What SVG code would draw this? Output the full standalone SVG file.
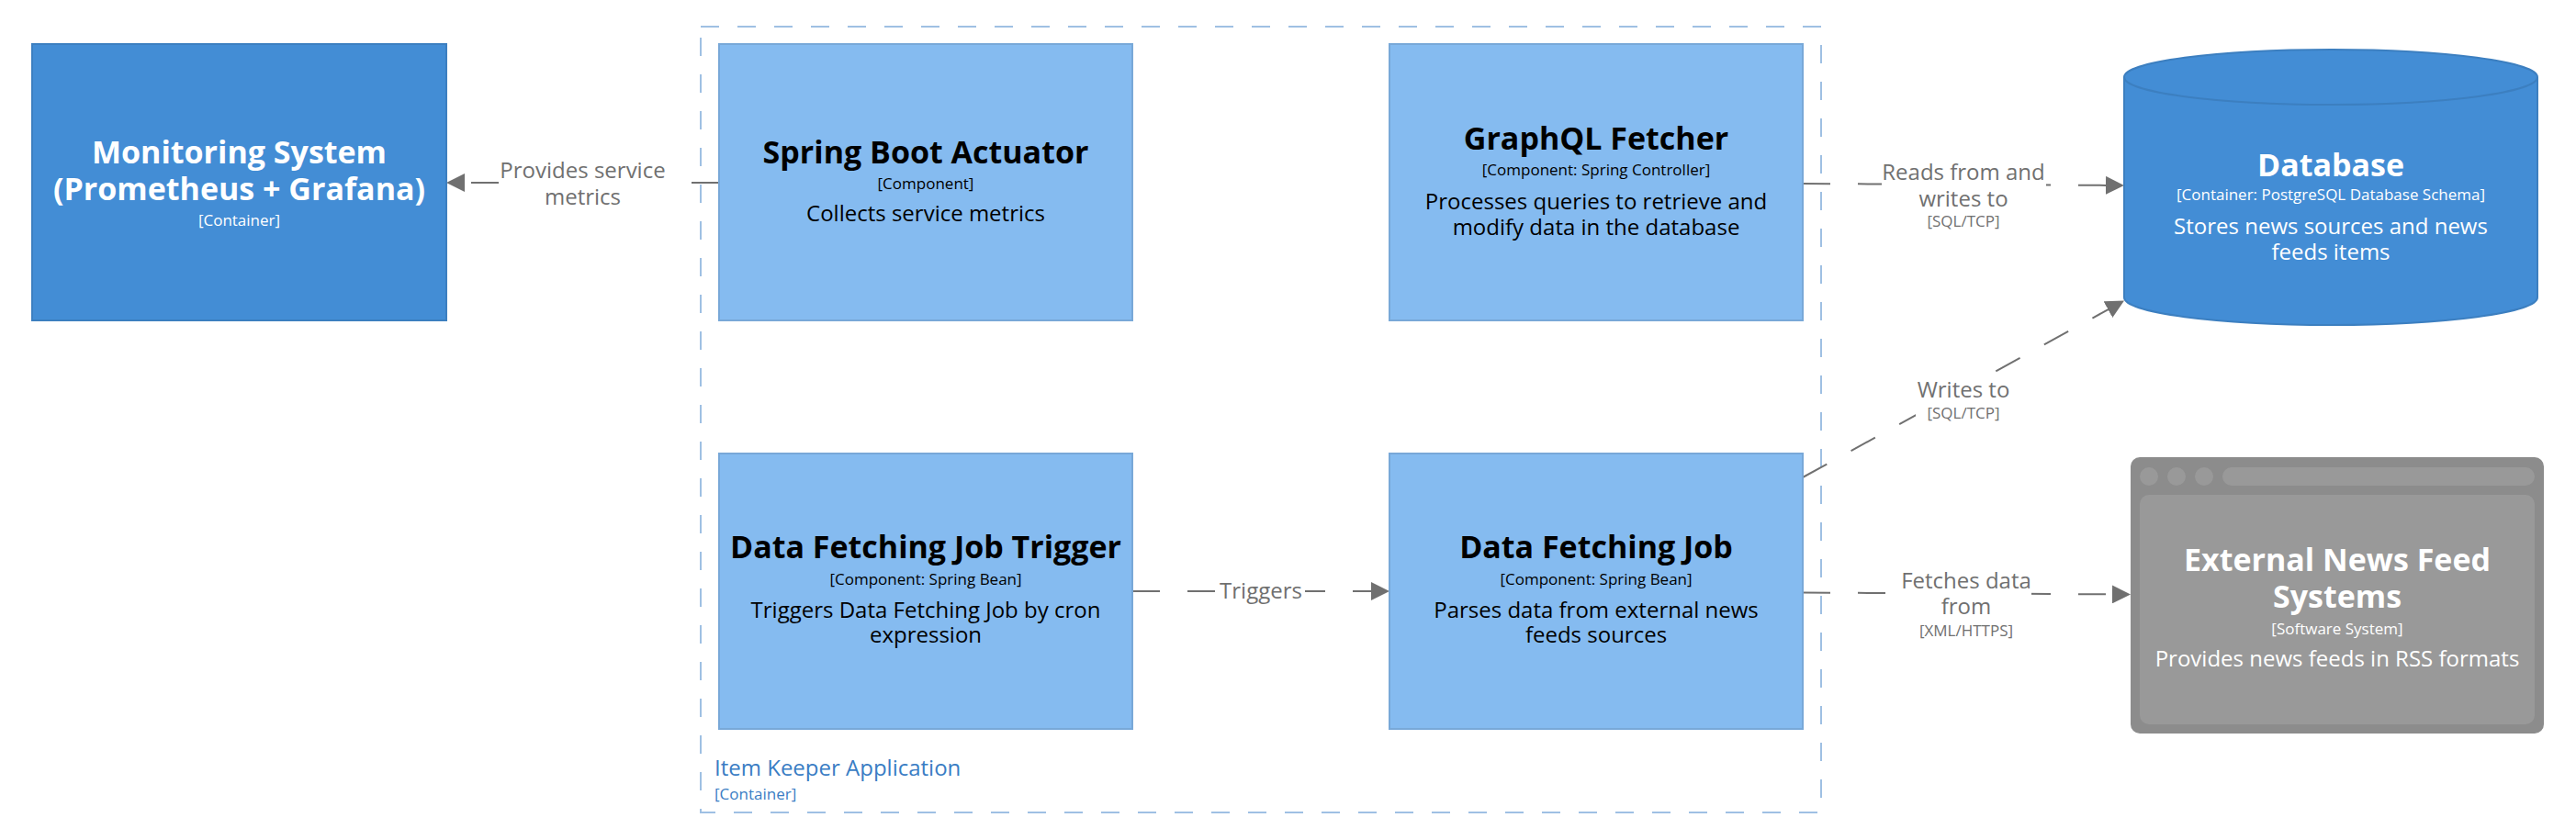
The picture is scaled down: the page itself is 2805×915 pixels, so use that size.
<svg xmlns="http://www.w3.org/2000/svg" width="2805" height="915" viewBox="0 0 2805 915">
<style>
text{font-family:"Open Sans","Liberation Sans",Arial,sans-serif;text-anchor:middle}
.name{font-size:34px;font-weight:bold}
.meta{font-size:17px}
.desc{font-size:24px}
.dark{fill:#000000}
.light{fill:#ffffff}
.comp{fill:#85bbf0;stroke:#78a8d8;stroke-width:2}
.cont{fill:#438dd5;stroke:#3c7fc0;stroke-width:2}
.rel{stroke:#707070;stroke-width:2;stroke-dasharray:30 30;fill:none;marker-end:url(#arrow)}
.lbl{fill:#707070}
.lblbg{fill:#ffffff}
</style>
<defs>
<marker id="arrow" markerUnits="userSpaceOnUse" markerWidth="20" markerHeight="20" refX="20" refY="10" orient="auto">
<path d="M0,0 L20,10 L0,20 Z" fill="#707070"/>
</marker>
</defs>
<rect x="0" y="0" width="2805" height="915" fill="#ffffff"/>

<g id="boundary-item-keeper">
<rect x="763" y="29" width="1220" height="856" fill="none" stroke="#9fc0e3" stroke-width="2" stroke-dasharray="20 20"/>
<text x="778" y="845" style="text-anchor:start;font-size:24px;fill:#3a7dc4">Item Keeper Application</text>
<text x="778" y="871" class="meta" style="text-anchor:start;fill:#3a7dc4">[Container]</text>
</g>

<g id="connectors">
<line class="rel" x1="783" y1="199" x2="486" y2="199"/>
<line class="rel" x1="1963" y1="200" x2="2313" y2="202"/>
<line class="rel" x1="1233" y1="644" x2="1513" y2="644"/>
<line class="rel" x1="1963" y1="520" x2="2313" y2="327.5"/>
<line class="rel" x1="1963" y1="645.5" x2="2320" y2="647.5"/>

<rect class="lblbg" x="544" y="174" width="181" height="58"/>
<text class="desc lbl" x="634.5" y="193.5">Provides service</text>
<text class="desc lbl" x="634.5" y="222.5">metrics</text>

<rect class="lblbg" x="2049" y="174" width="179" height="78"/>
<text class="desc lbl" x="2138" y="196">Reads from and</text>
<text class="desc lbl" x="2138" y="225">writes to</text>
<text class="meta lbl" x="2138" y="246.5">[SQL/TCP]</text>

<rect class="lblbg" x="1324" y="630" width="97" height="30"/>
<text class="desc lbl" x="1373" y="652">Triggers</text>

<rect class="lblbg" x="2086" y="410" width="104" height="52"/>
<text class="desc lbl" x="2138" y="433">Writes to</text>
<text class="meta lbl" x="2138" y="456">[SQL/TCP]</text>

<rect class="lblbg" x="2070" y="618" width="142" height="80"/>
<text class="desc lbl" x="2141" y="640.5">Fetches data</text>
<text class="desc lbl" x="2141" y="669">from</text>
<text class="meta lbl" x="2141" y="692.5">[XML/HTTPS]</text>
</g>

<g id="monitoring-system">
<rect class="cont" x="35" y="48" width="451" height="301"/>
<text class="name light" x="260.5" y="177.5">Monitoring System</text>
<text class="name light" x="260.5" y="218">(Prometheus + Grafana)</text>
<text class="meta light" x="260.5" y="245.5">[Container]</text>
</g>

<g id="spring-boot-actuator">
<rect class="comp" x="783" y="48" width="450" height="301"/>
<text class="name dark" x="1008" y="178">Spring Boot Actuator</text>
<text class="meta dark" x="1008" y="205.5">[Component]</text>
<text class="desc dark" x="1008" y="240.5">Collects service metrics</text>
</g>

<g id="graphql-fetcher">
<rect class="comp" x="1513" y="48" width="450" height="301"/>
<text class="name dark" x="1738" y="163">GraphQL Fetcher</text>
<text class="meta dark" x="1738" y="191">[Component: Spring Controller]</text>
<text class="desc dark" x="1738" y="227.5">Processes queries to retrieve and</text>
<text class="desc dark" x="1738" y="255.5">modify data in the database</text>
</g>

<g id="data-fetching-job-trigger">
<rect class="comp" x="783" y="494" width="450" height="300"/>
<text class="name dark" x="1008" y="608">Data Fetching Job Trigger</text>
<text class="meta dark" x="1008" y="637">[Component: Spring Bean]</text>
<text class="desc dark" x="1008" y="672.5">Triggers Data Fetching Job by cron</text>
<text class="desc dark" x="1008" y="700">expression</text>
</g>

<g id="data-fetching-job">
<rect class="comp" x="1513" y="494" width="450" height="300"/>
<text class="name dark" x="1738" y="608">Data Fetching Job</text>
<text class="meta dark" x="1738" y="637">[Component: Spring Bean]</text>
<text class="desc dark" x="1738" y="672.5">Parses data from external news</text>
<text class="desc dark" x="1738" y="700">feeds sources</text>
</g>

<g id="database">
<path class="cont" d="M2313,84 L2313,324 A225,30 0 0 0 2763,324 L2763,84 A225,30 0 0 0 2313,84 Z"/>
<path d="M2313,84 A225,30 0 0 0 2763,84" fill="none" stroke="#3c7fc0" stroke-width="2"/>
<text class="name light" x="2538" y="191.5">Database</text>
<text class="meta light" x="2538" y="218">[Container: PostgreSQL Database Schema]</text>
<text class="desc light" x="2538" y="255">Stores news sources and news</text>
<text class="desc light" x="2538" y="283">feeds items</text>
</g>

<g id="external-news-feed-systems">
<rect x="2320" y="498" width="450" height="301" rx="10" fill="#8c8c8c"/>
<rect x="2330" y="539" width="430" height="250" rx="10" fill="#999999"/>
<circle cx="2340" cy="519" r="10" fill="#999999"/>
<circle cx="2370" cy="519" r="10" fill="#999999"/>
<circle cx="2400" cy="519" r="10" fill="#999999"/>
<rect x="2420" y="509" width="340" height="20" rx="10" fill="#999999"/>
<text class="name light" x="2545" y="621.5">External News Feed</text>
<text class="name light" x="2545" y="662">Systems</text>
<text class="meta light" x="2545" y="690.5">[Software System]</text>
<text class="desc light" x="2545" y="726">Provides news feeds in RSS formats</text>
</g>
</svg>
